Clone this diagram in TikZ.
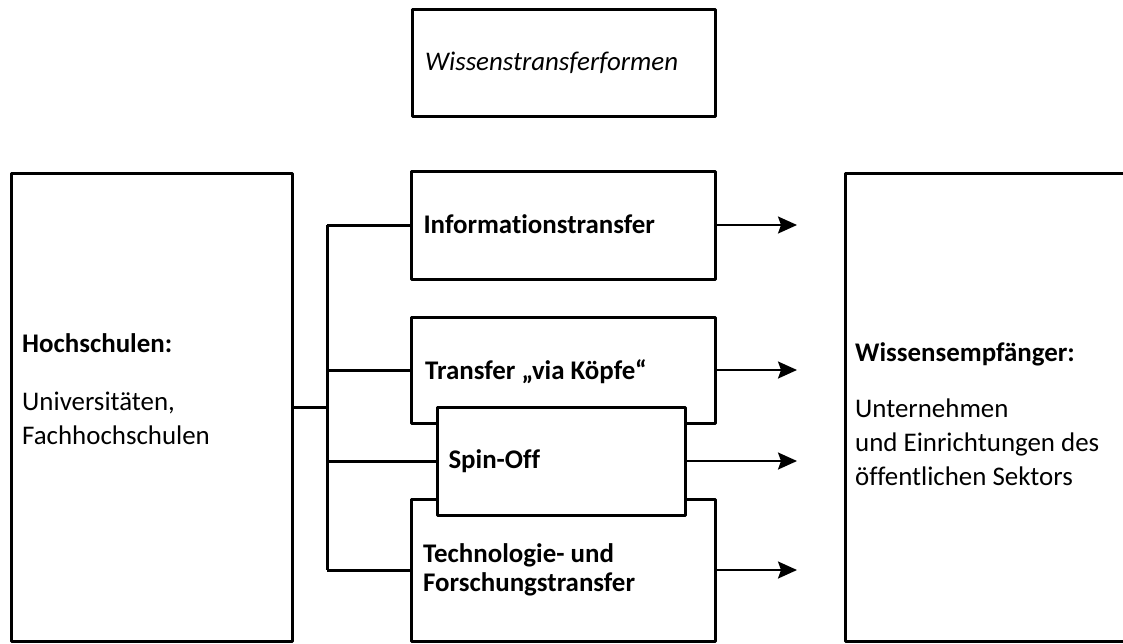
\documentclass[tikz,border=0pt]{standalone}
\usepackage{fontspec}
\setmainfont{Carlito}[Ligatures=NoCommon]
\usetikzlibrary{arrows.meta}
\begin{document}
\begin{tikzpicture}[x=1pt,y=-1pt,
  box/.style={draw, line width=3pt, fill=white, inner sep=0pt, outer sep=0pt, line join=round, minimum width=#1},
  lbl/.style={anchor=base west, inner sep=0pt, font=\fontsize{26.9}{30}\selectfont},
  blbl/.style={anchor=base west, inner sep=0pt, font=\fontsize{26.9}{30}\selectfont\bfseries},
  ilbl/.style={anchor=base west, inner sep=0pt, font=\fontsize{26.9}{30}\selectfont\itshape},
  conn/.style={line width=3pt},
  shadowline/.style={line width=3pt, black!20},
  arr/.style={line width=2pt, -{Stealth[length=19pt,width=17pt,inset=3pt]}}]
\clip (0,0) rectangle (1123,643);
\useasboundingbox (0,0) rectangle (1123,643);

% boxes (positions in pixel units)
\node[box=303pt, minimum height=107pt] (top) at (563.5,62.5) {};
\node[box=281pt, minimum height=468pt] (hs) at (151.5,407) {};
\node[box=295pt, minimum height=468pt] (we) at (992.5,407) {};

\coordinate (tk) at (327,407);
\coordinate (info) at (563,225);
\coordinate (via) at (563,370);
\coordinate (spinc) at (561,461);
\coordinate (techc) at (563,570);
\coordinate (infoW) at (411,225);
\coordinate (viaW) at (411,370);
\coordinate (spinW) at (437,461);
\coordinate (techW) at (411,570);

% shadows of connectors
\begin{scope}[shift={(3,4)}]
  \draw[shadowline] (hs.east) -- (tk);
  \draw[shadowline] (infoW -| tk) -- (techW -| tk);
  \draw[shadowline] (infoW -| tk) -- (infoW);
  \draw[shadowline] (viaW -| tk) -- (viaW);
  \draw[shadowline] (spinW -| tk) -- (spinW);
  \draw[shadowline] (techW -| tk) -- (techW);
\end{scope}

% connectors
\draw[conn] (hs.east) -- (tk);
\draw[conn] (infoW -| tk) -- (techW -| tk);
\draw[conn] (infoW -| tk) -- (infoW);
\draw[conn] (viaW -| tk) -- (viaW);
\draw[conn] (spinW -| tk) -- (spinW);
\draw[conn] (techW -| tk) -- (techW);

% form boxes
\node[box=304pt, minimum height=108pt] (infob) at (info) {};
\node[box=304pt, minimum height=106pt] (viab) at (via) {};
\node[box=304pt, minimum height=142pt] (techb) at (techc) {};
\node[box=248pt, minimum height=108pt] (spinb) at (spinc) {};

% arrows
\coordinate (e1) at (797,225);
\coordinate (e2) at (797,370);
\coordinate (e3) at (797,461);
\coordinate (e4) at (797,570);
\draw[arr] (infob.east) -- (e1);
\draw[arr] (viab.east) -- (e2);
\draw[arr] (spinb.east) -- (e3);
\draw[arr] (techb.east) -- (e4);

% texts
\node[ilbl] (ttop) at (425,70.7) {Wissenstransferformen};
\node[blbl] (t1) at (22,352.3) {Hochschulen:};
\node[lbl] (t2) at (22,410) {Universitäten,};
\node[lbl] (t3) at (22,444.3) {Fachhochschulen};
\node[blbl] (r1) at (855,361.7) {Wissensempfänger:};
\node[lbl] (r2) at (855,417.7) {Unternehmen};
\node[lbl] (r3) at (855,451.7) {und Einrichtungen des};
\node[lbl] (r4) at (855,485.5) {öffentlichen Sektors};
\node[blbl] (m1) at (423.3,233.3) {Informationstransfer};
\node[blbl] (m2) at (425,379) {Transfer „via Köpfe“};
\node[blbl] (m3) at (448.3,468.3) {Spin-Off};
\node[blbl] (m4) at (423,562.7) {Technologie- und};
\node[blbl] (m5) at (423,591.7) {Forschungstransfer};
\end{tikzpicture}
\end{document}
